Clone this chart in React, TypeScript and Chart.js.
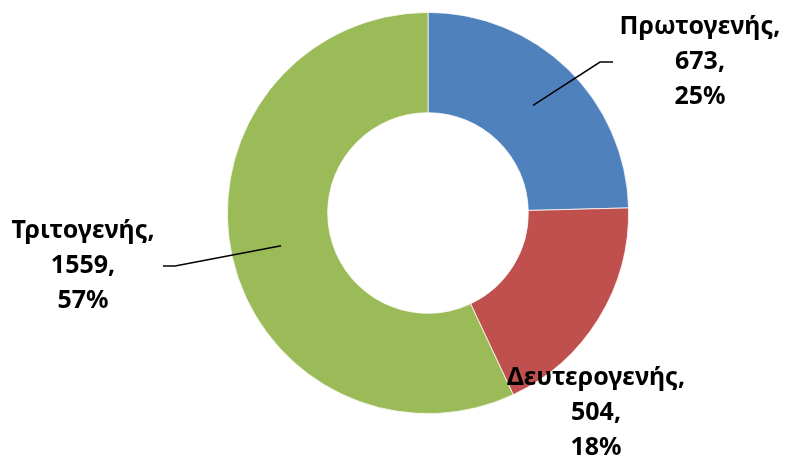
import React, { useEffect, useRef } from "react";
import { Chart, registerables } from "chart.js";

Chart.register(...registerables);

const categories = ["Πρωτογενής", "Δευτερογενής", "Τριτογενής"];
const values = [673, 504, 1559];
const percents = ["25%", "18%", "57%"];
const colors = ["#4F81BD", "#C0504D", "#9BBB59"];

// label layout (offsets from doughnut centre, in px)
const labelCentre = [
  { x: 272, y: -151 },
  { x: 168, y: 200 },
  { x: -345, y: 53 },
];
const leaderElbow = [{ x: 172, y: -151 }, null, { x: -253, y: 53 }];
const leaderEnd = [{ x: 185, y: -151 }, null, { x: -265, y: 53 }];

const FONT = "bold 25px 'Noto Sans', 'Open Sans', sans-serif";
const LINE_H = 35;

const labelPlugin = {
  id: "outLabels",
  afterDatasetsDraw(chart: any) {
    const ctx = chart.ctx;
    const meta = chart.getDatasetMeta(0);
    ctx.save();
    meta.data.forEach((arc: any, i: number) => {
      const { x, y, startAngle, endAngle, outerRadius } = arc.getProps(
        ["x", "y", "startAngle", "endAngle", "outerRadius"],
        true
      );
      const mid = (startAngle + endAngle) / 2;
      const elbow = leaderElbow[i];
      const end = leaderEnd[i];
      if (elbow && end) {
        const ax = x + Math.cos(mid) * outerRadius * 0.75;
        const ay = y + Math.sin(mid) * outerRadius * 0.75;
        ctx.beginPath();
        ctx.strokeStyle = "#000";
        ctx.lineWidth = 1.5;
        ctx.moveTo(ax, ay);
        ctx.lineTo(x + elbow.x, y + elbow.y);
        ctx.lineTo(x + end.x, y + end.y);
        ctx.stroke();
      }
      const lines = [categories[i] + ",", values[i] + ",", percents[i]];
      ctx.font = FONT;
      ctx.fillStyle = "#000";
      ctx.textAlign = "center";
      ctx.textBaseline = "middle";
      const cx = x + labelCentre[i].x;
      const cy = y + labelCentre[i].y;
      lines.forEach((t, k) => {
        ctx.fillText(t, cx, cy + (k - 1) * LINE_H);
      });
    });
    ctx.restore();
  },
};

export default function App() {
  const ref = useRef<HTMLCanvasElement>(null);
  useEffect(() => {
    document.body.style.margin = "0";
    const chart = new Chart(ref.current!, {
      type: "doughnut",
      data: {
        labels: categories,
        datasets: [
          {
            data: values,
            backgroundColor: colors,
            borderColor: "#ffffff",
            borderWidth: 0.75,
            hoverOffset: 0,
          },
        ],
      },
      options: {
        responsive: false,
        animation: false,
        cutout: "50%",
        layout: { padding: { left: 227, right: 156, top: 12, bottom: 44 } },
        plugins: {
          legend: { display: false },
          tooltip: { enabled: false },
        },
      },
      plugins: [labelPlugin],
    });
    return () => chart.destroy();
  }, []);
  return (
    <div style={{ width: 785, height: 458, background: "#fff" }}>
      <canvas ref={ref} width={785} height={458} />
    </div>
  );
}
